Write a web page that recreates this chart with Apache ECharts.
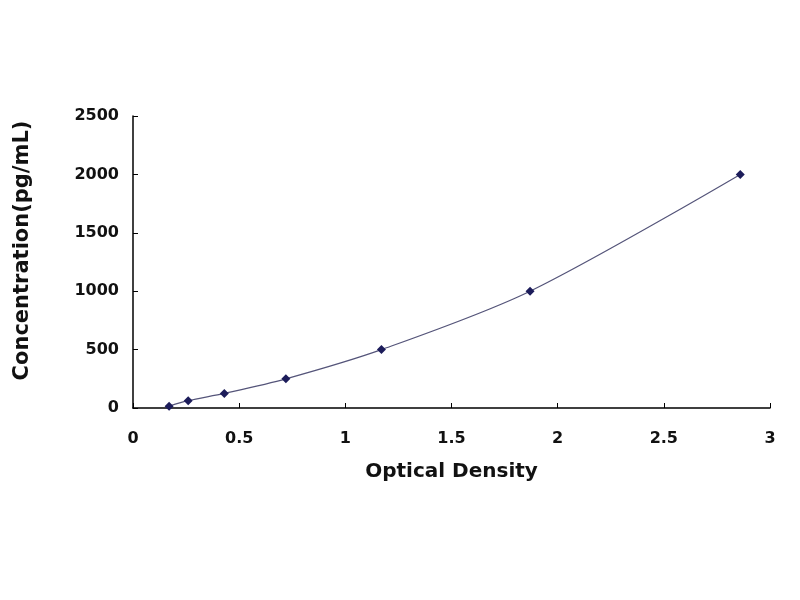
<!DOCTYPE html>
<html>
<head>
<meta charset="utf-8">
<script src="https://cdn.jsdelivr.net/npm/echarts@6/dist/echarts.min.js"></script>
<style>
  html, body { margin: 0; padding: 0; background: #fff; }
  #box01 { width: 800px; height: 600px; }
</style>
</head>
<body>
<div id="box01"></div>
<script>
// standard curve points
var odValues = [0.17, 0.26, 0.43, 0.72, 1.17, 1.87, 2.86];
var concValues = [15.6, 62.5, 125, 250, 500, 1000, 2000];
var xTicks = [0, 0.5, 1, 1.5, 2, 2.5, 3];
var yTicks = [0, 500, 1000, 1500, 2000, 2500];

var points = [];
for (var i = 0; i < odValues.length; i++) {
    points.push([odValues[i], concValues[i]]);
}

var myChart = echarts.init(document.getElementById('box01'));
var labelFont = {
    fontFamily: 'DejaVu Sans',
    fontWeight: 'bold',
    fontSize: 16,
    color: '#111'
};
var titleFont = {
    fontFamily: 'DejaVu Sans',
    fontWeight: 'bold',
    fontSize: 20,
    color: '#111'
};

var option = {
    backgroundColor: '#fff',
    animation: false,
    grid: { left: 133, right: 30, top: 116, bottom: 192 },
    xAxis: {
        type: 'value',
        min: xTicks[0],
        max: xTicks[xTicks.length - 1],
        interval: 0.5,
        name: 'Optical Density',
        nameLocation: 'middle',
        nameGap: 54,
        nameTextStyle: titleFont,
        axisLine: { lineStyle: { color: '#000', width: 1.5 } },
        axisTick: { inside: true, length: 5, lineStyle: { color: '#000' } },
        axisLabel: Object.assign({ margin: 23, formatter: function (v) { return String(v); } }, labelFont),
        splitLine: { show: false }
    },
    yAxis: {
        type: 'value',
        min: yTicks[0],
        max: yTicks[yTicks.length - 1],
        interval: 500,
        name: 'Concentration(pg/mL)',
        nameLocation: 'middle',
        nameGap: 100,
        // left padding nudges the rotated title up a little, as in the original
        nameTextStyle: Object.assign({}, titleFont, { fontSize: 21, padding: [0, 0, 0, 23] }),
        axisLine: { show: true, lineStyle: { color: '#000', width: 1.5 } },
        axisTick: { show: true, inside: true, length: 5, lineStyle: { color: '#000' } },
        axisLabel: Object.assign({ margin: 14, formatter: function (v) { return String(v); } }, labelFont),
        splitLine: { show: false }
    },
    series: [
        {
            type: 'line',
            data: points,
            smooth: 0.3,
            symbol: 'diamond',
            symbolSize: 9,
            itemStyle: { color: '#1c1c5a' },
            lineStyle: { color: '#55557a', width: 1.2 }
        }
    ]
};
myChart.setOption(option);
</script>
</body>
</html>
